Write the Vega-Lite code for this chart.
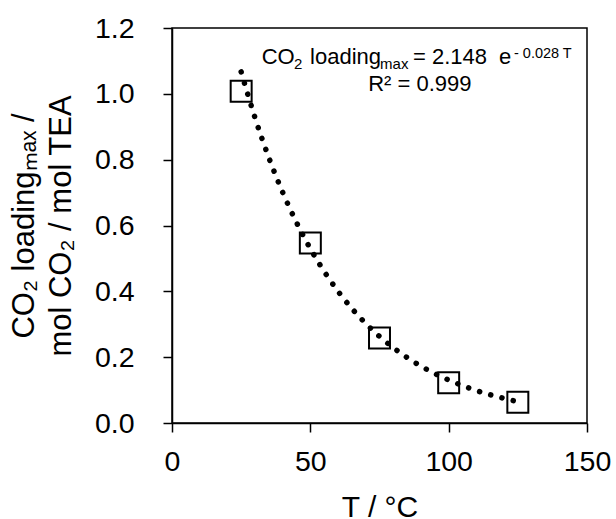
{
  "$schema": "https://vega.github.io/schema/vega-lite/v6.json",
  "width": 415,
  "height": 395,
  "autosize": {"type": "none"},
  "padding": {"left": 172, "top": 28, "right": 29, "bottom": 96},
  "background": "white",
  "config": {
    "font": "Liberation Sans",
    "view": {"stroke": "black", "strokeWidth": 1.5},
    "axis": {
      "grid": false,
      "domainColor": "black",
      "domainWidth": 1.5,
      "tickColor": "black",
      "tickWidth": 1.5,
      "tickSize": 9,
      "labelFlush": false,
      "labelOverlap": false,
      "labelFont": "Liberation Sans",
      "labelFontSize": 28.5,
      "labelColor": "black",
      "titleFont": "Liberation Sans",
      "titleFontSize": 30,
      "titleFontWeight": "normal",
      "titleColor": "black"
    }
  },
  "datasets": {
    "measured": [
      {"T": 25, "loading": 1.008},
      {"T": 50, "loading": 0.547},
      {"T": 75, "loading": 0.258},
      {"T": 100, "loading": 0.122},
      {"T": 125, "loading": 0.063}
    ],
    "fit": [
      {"T": 25, "loading": 1.0667},
      {"T": 30, "loading": 0.9273},
      {"T": 35, "loading": 0.8062},
      {"T": 40, "loading": 0.7009},
      {"T": 45, "loading": 0.6093},
      {"T": 50, "loading": 0.5297},
      {"T": 55, "loading": 0.4605},
      {"T": 60, "loading": 0.4003},
      {"T": 65, "loading": 0.348},
      {"T": 70, "loading": 0.3026},
      {"T": 75, "loading": 0.263},
      {"T": 80, "loading": 0.2287},
      {"T": 85, "loading": 0.1988},
      {"T": 90, "loading": 0.1728},
      {"T": 95, "loading": 0.1503},
      {"T": 100, "loading": 0.1306},
      {"T": 105, "loading": 0.1136},
      {"T": 110, "loading": 0.0987},
      {"T": 115, "loading": 0.0858},
      {"T": 120, "loading": 0.0746},
      {"T": 125, "loading": 0.0649}
    ]
  },
  "layer": [
    {
      "data": {"name": "fit"},
      "mark": {"type": "line", "color": "black", "strokeWidth": 5.5, "strokeCap": "round", "strokeDash": [0.1, 11.5], "interpolate": "monotone"},
      "encoding": {
        "x": {
          "field": "T", "type": "quantitative",
          "scale": {"domain": [0, 150], "nice": false},
          "axis": {"values": [0, 50, 100, 150], "labelPadding": 15, "title": "T / °C", "titleY": 69, "titleBaseline": "top"}
        },
        "y": {
          "field": "loading", "type": "quantitative",
          "scale": {"domain": [0, 1.2], "nice": false},
          "axis": {"values": [0, 0.2, 0.4, 0.6, 0.8, 1.0, 1.2], "format": ".1f", "labelPadding": 29,
                   "title": ["CO₂ loadingₘₐₓ /", "mol CO₂ / mol TEA"],
                   "titleFontSize": 31,
                   "titleAngle": 270, "titleBaseline": "alphabetic", "titleLineHeight": 37, "titleX": -139, "titleY": 197.5, "titleAlign": "center"}
        }
      }
    },
    {
      "data": {"name": "measured"},
      "mark": {"type": "point", "shape": "square", "filled": false, "stroke": "black", "strokeWidth": 2, "size": 440, "opacity": 1},
      "encoding": {
        "x": {"field": "T", "type": "quantitative"},
        "y": {"field": "loading", "type": "quantitative"}
      }
    },
    {
      "data": {"values": [{"label": "CO"}]},
      "mark": {"type": "text", "align": "left", "baseline": "alphabetic", "fontSize": 22, "color": "black"},
      "encoding": {"x": {"datum": 32.4, "type": "quantitative"}, "y": {"datum": 1.09, "type": "quantitative"}, "text": {"field": "label"}}
    },
    {
      "data": {"values": [{"label": "2"}]},
      "mark": {"type": "text", "align": "left", "baseline": "alphabetic", "fontSize": 15, "dy": 5, "color": "black"},
      "encoding": {"x": {"datum": 44.1, "type": "quantitative"}, "y": {"datum": 1.09, "type": "quantitative"}, "text": {"field": "label"}}
    },
    {
      "data": {"values": [{"label": "loading"}]},
      "mark": {"type": "text", "align": "left", "baseline": "alphabetic", "fontSize": 22, "color": "black"},
      "encoding": {"x": {"datum": 49.9, "type": "quantitative"}, "y": {"datum": 1.09, "type": "quantitative"}, "text": {"field": "label"}}
    },
    {
      "data": {"values": [{"label": "max"}]},
      "mark": {"type": "text", "align": "left", "baseline": "alphabetic", "fontSize": 15, "dy": 5, "color": "black"},
      "encoding": {"x": {"datum": 75.2, "type": "quantitative"}, "y": {"datum": 1.09, "type": "quantitative"}, "text": {"field": "label"}}
    },
    {
      "data": {"values": [{"label": "= 2.148"}]},
      "mark": {"type": "text", "align": "left", "baseline": "alphabetic", "fontSize": 22, "color": "black"},
      "encoding": {"x": {"datum": 87.1, "type": "quantitative"}, "y": {"datum": 1.09, "type": "quantitative"}, "text": {"field": "label"}}
    },
    {
      "data": {"values": [{"label": "e"}]},
      "mark": {"type": "text", "align": "left", "baseline": "alphabetic", "fontSize": 22, "color": "black"},
      "encoding": {"x": {"datum": 118.2, "type": "quantitative"}, "y": {"datum": 1.09, "type": "quantitative"}, "text": {"field": "label"}}
    },
    {
      "data": {"values": [{"label": "- 0.028 T"}]},
      "mark": {"type": "text", "align": "left", "baseline": "alphabetic", "fontSize": 14.5, "dy": -6, "color": "black"},
      "encoding": {"x": {"datum": 123.6, "type": "quantitative"}, "y": {"datum": 1.09, "type": "quantitative"}, "text": {"field": "label"}}
    },
    {
      "data": {"values": [{"label": "R² = 0.999"}]},
      "mark": {"type": "text", "align": "left", "baseline": "alphabetic", "fontSize": 22, "color": "black"},
      "encoding": {"x": {"datum": 70.9, "type": "quantitative"}, "y": {"datum": 1.0095, "type": "quantitative"}, "text": {"field": "label"}}
    }
  ]
}
